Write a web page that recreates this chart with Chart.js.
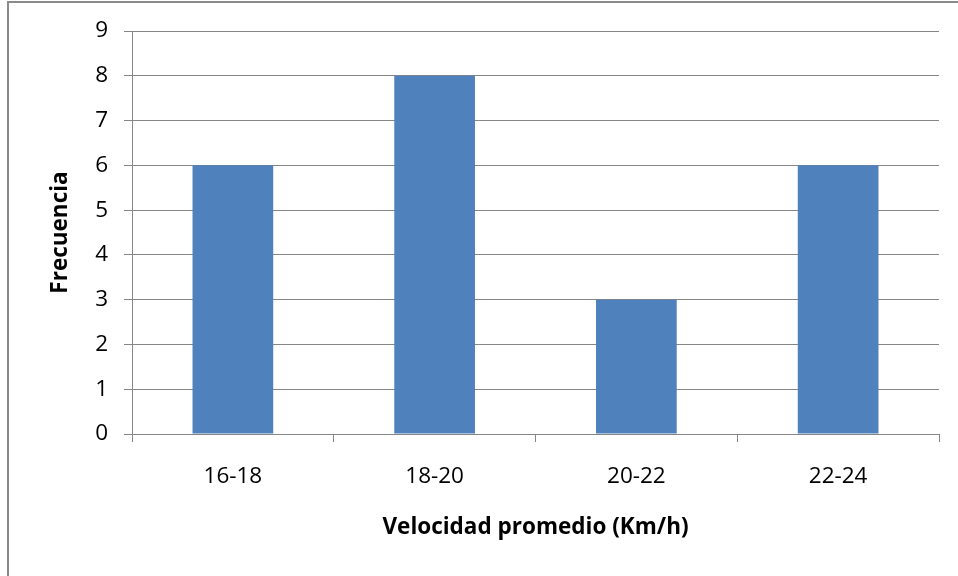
<!DOCTYPE html>
<html>
<head>
<meta charset="utf-8">
<script src="https://cdn.jsdelivr.net/npm/chart.js@4"></script>
<style>
  html, body { margin: 0; padding: 0; background: #ffffff; }
  #wrap { width: 958px; height: 576px; position: relative; }
</style>
</head>
<body>
<div id="wrap"><canvas id="c" width="958" height="576"></canvas></div>
<script>
// Speed classes (km/h) and how many observations fall in each
const categories = ['16-18', '18-20', '20-22', '22-24'];
const frecuencia = [6, 8, 3, 6];
const yTicks = [0, 1, 2, 3, 4, 5, 6, 7, 8, 9];

const FONT = "'Open Sans', Lato, sans-serif";
const GRID = '#868686';

// Thin grey frame around the whole chart
const frame = {
  id: 'frame',
  beforeDraw(chart) {
    const ctx = chart.ctx;
    ctx.save();
    ctx.fillStyle = '#ffffff';
    ctx.fillRect(0, 0, chart.width, chart.height);
    ctx.strokeStyle = '#8a8a8a';
    ctx.lineWidth = 2;
    ctx.strokeRect(8, 2, chart.width + 20, chart.height + 20);
    ctx.restore();
  }
};

new Chart(document.getElementById('c'), {
  type: 'bar',
  data: {
    labels: categories,
    datasets: [{
      label: 'Frecuencia',
      data: frecuencia,
      backgroundColor: '#4F81BD',
      borderWidth: 0,
      categoryPercentage: 1.0,
      barPercentage: 0.4
    }]
  },
  options: {
    responsive: false,
    animation: false,
    devicePixelRatio: 1,
    layout: { padding: { left: 0, top: 31, right: 19, bottom: 0 } },
    plugins: {
      legend: { display: false },
      tooltip: { enabled: false }
    },
    scales: {
      x: {
        offset: true,
        grid: {
          offset: true,
          drawOnChartArea: false,
          drawTicks: true,
          tickLength: 8,
          color: GRID,
          lineWidth: 1
        },
        border: { color: GRID, width: 1 },
        ticks: {
          color: '#000000',
          padding: 21,
          font: { family: FONT, size: 22.5 }
        },
        title: {
          display: true,
          text: 'Velocidad promedio (Km/h)',
          color: '#000000',
          font: { family: FONT, size: 22.5, weight: 'bold' },
          padding: { top: 0, bottom: 35 }
        },
        afterFit(scale) { scale.height = 576 - 434; }
      },
      y: {
        min: 0,
        max: 9,
        afterBuildTicks(scale) { scale.ticks = yTicks.map(v => ({ value: v })); },
        grid: {
          color: GRID,
          lineWidth: 1,
          tickLength: 8
        },
        border: { color: GRID, width: 1 },
        ticks: {
          color: '#000000',
          padding: 16,
          font: { family: FONT, size: 22.5 }
        },
        title: {
          display: true,
          text: 'Frecuencia',
          color: '#000000',
          font: { family: FONT, size: 22.5, weight: 'bold' },
          padding: { top: 47, bottom: 0 }
        },
        afterFit(scale) { scale.width = 132; }
      }
    }
  },
  plugins: [frame]
});
</script>
</body>
</html>
